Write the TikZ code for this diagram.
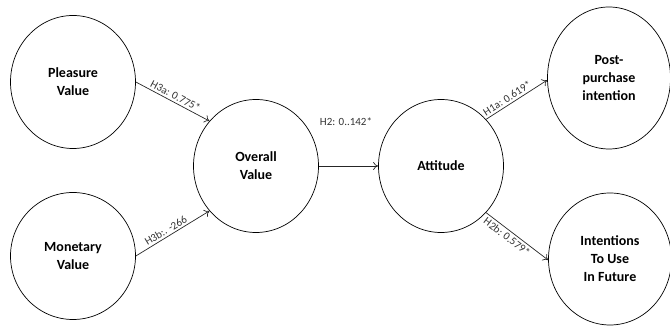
\documentclass[tikz,border=0pt]{standalone}
\usepackage{fontspec}
\setmainfont{Carlito}
\usetikzlibrary{shapes.geometric,arrows.meta}
\tikzset{
  var/.style={ellipse,draw=black,line width=0.7pt,minimum width=125pt,minimum height=133pt,inner sep=0pt,
    align=center,font=\fontsize{14}{18}\selectfont\bfseries},
  conn/.style={draw=black!85,line width=0.7pt,-{To[length=5pt,width=8pt]}},
  lab/.style={font=\fontsize{11}{13}\selectfont,text=black!80,inner sep=2pt}
}
\begin{document}
\begin{tikzpicture}[x=1pt,y=1pt]
\useasboundingbox (0,0) rectangle (670,328);
\node[var] (pv) at (73,246) {Pleasure\\Value};
\node[var,minimum height=127pt] (mv) at (73,72) {Monetary\\Value};
\node[var] (ov) at (256,162) {Overall\\Value};
\node[var] (at) at (441,162) {Attitude};
\node[var,minimum height=142pt,minimum width=123pt] (pp) at (609,250) {Post-\\purchase\\intention};
\node[var,minimum height=132pt,minimum width=123pt] (iu) at (610,69) {Intentions\\To Use\\In Future};
\draw[conn] (pv.east) -- node[lab,sloped,above,pos=0.5] (l1) {H3a: 0.775*} (ov.136);
\draw[conn] (mv.east) -- node[lab,sloped,above,pos=0.45] (l2) {H3b:. -266} (ov.224);
\draw[conn] (ov.east) -- (at.west);
\node[lab] (l3) at (346,206) {H2: 0..142*};
\draw[conn] (at.46) -- node[lab,sloped,above,pos=0.4] (l4) {H1a: 0.619*} (pp.182);
\draw[conn] (at.-46) -- node[lab,sloped,below,pos=0.4] (l5) {H2b: 0.579*} (iu.181);
\end{tikzpicture}
\end{document}
